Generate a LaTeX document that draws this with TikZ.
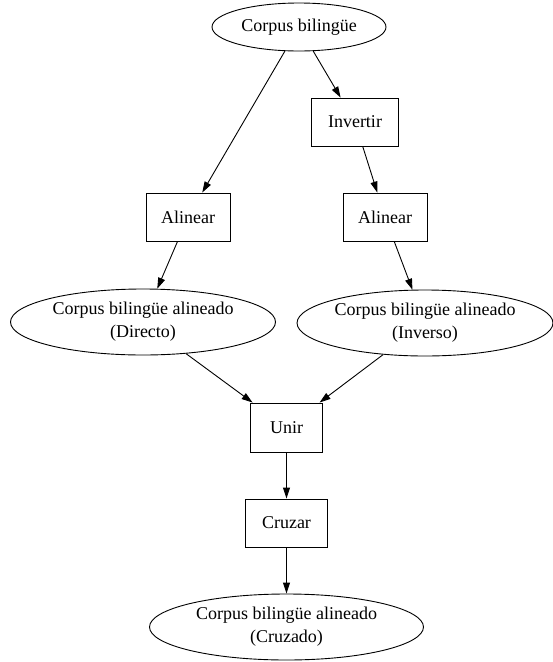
\documentclass[tikz,border=0pt]{standalone}
\usepackage{fontspec}
\setmainfont{Liberation Serif}
\usetikzlibrary{shapes.geometric,arrows.meta}
\begin{document}
\begin{tikzpicture}[x=1pt,y=-1pt,
  every node/.style={font=\fontsize{18}{23}\selectfont, align=center, inner sep=0pt},
  corpus/.style={draw, ellipse, line width=0.9pt},
  proc/.style={draw, rectangle, line width=0.9pt, minimum height=48},
  flow/.style={-{Triangle[length=11pt,width=7pt]}, line width=0.9pt}]
\useasboundingbox (0,0) rectangle (553,662);

% data sets
\node[corpus, minimum width=174, minimum height=48] (src) at (299,27) {Corpus bilingüe};
\node[corpus, minimum width=265, minimum height=66] (dir) at (143,322) {Corpus bilingüe alineado\\(Directo)};
\node[corpus, minimum width=253, minimum height=66] (inv) at (425,323) {Corpus bilingüe alineado\\(Inverso)};
\node[corpus, minimum width=274, minimum height=66] (cruz) at (286.5,627) {Corpus bilingüe alineado\\(Cruzado)};

% processing steps
\node[proc, minimum width=87] (invertir) at (355,122) {Invertir};
\node[proc, minimum width=84] (alinL) at (188,217) {Alinear};
\node[proc, minimum width=84] (alinR) at (385,217) {Alinear};
\node[proc, minimum width=72, minimum height=49] (unir) at (286.5,427.5) {Unir};
\node[proc, minimum width=82] (cruzar) at (286.5,523) {Cruzar};

% flow
\draw[flow] (src) -- (alinL);
\draw[flow] (src) -- (invertir);
\draw[flow] (invertir) -- (alinR);
\draw[flow] (alinL) -- (dir);
\draw[flow] (alinR) -- (inv);
\draw[flow] (dir) -- (unir);
\draw[flow] (inv) -- (unir);
\draw[flow] (unir) -- (cruzar);
\draw[flow] (cruzar) -- (cruz);
\end{tikzpicture}
\end{document}
